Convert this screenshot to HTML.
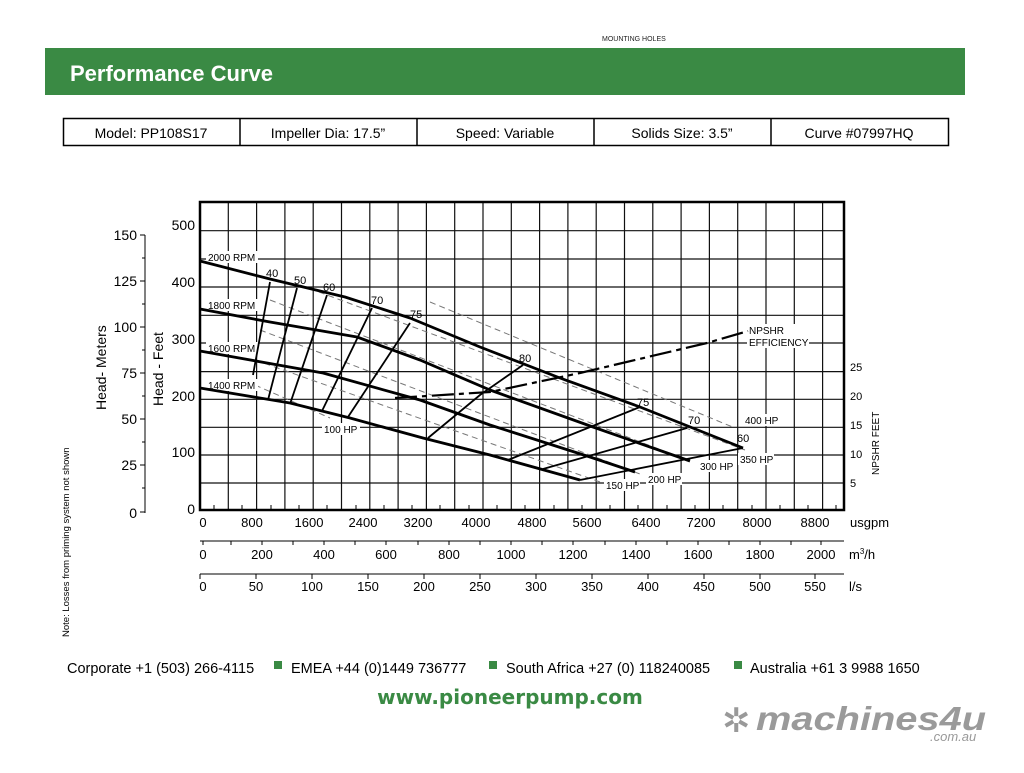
<!DOCTYPE html>
<html><head><meta charset="utf-8"><style>
body{margin:0;background:#fff;width:1024px;height:768px;overflow:hidden;font-family:"Liberation Sans",Arial,sans-serif}
</style></head><body>
<svg width="1024" height="768" viewBox="0 0 1024 768" xmlns="http://www.w3.org/2000/svg" font-family="Liberation Sans, Arial, sans-serif">
<text x="602" y="41" font-size="7" fill="#222">MOUNTING HOLES</text>
<rect x="45" y="48" width="920" height="47" fill="#3a8a44"/>
<text x="70" y="81" font-size="22" font-weight="bold" fill="#fff">Performance Curve</text>
<rect x="63.5" y="118.5" width="885" height="27" fill="none" stroke="#000" stroke-width="1.5"/>
<g stroke="#000" stroke-width="1.5"><line x1="240" y1="118" x2="240" y2="146"/><line x1="417" y1="118" x2="417" y2="146"/><line x1="594" y1="118" x2="594" y2="146"/><line x1="771" y1="118" x2="771" y2="146"/></g>
<g font-size="14" text-anchor="middle" fill="#000">
<text x="151" y="138">Model: PP108S17</text><text x="328" y="138">Impeller Dia: 17.5”</text><text x="505" y="138">Speed: Variable</text><text x="682" y="138">Solids Size: 3.5”</text><text x="859" y="138">Curve #07997HQ</text></g>

<g stroke="#111" stroke-width="1.2">
<line x1="228.3" y1="202" x2="228.3" y2="510"/><line x1="256.6" y1="202" x2="256.6" y2="510"/><line x1="284.9" y1="202" x2="284.9" y2="510"/><line x1="313.2" y1="202" x2="313.2" y2="510"/><line x1="341.5" y1="202" x2="341.5" y2="510"/><line x1="369.8" y1="202" x2="369.8" y2="510"/><line x1="398.1" y1="202" x2="398.1" y2="510"/><line x1="426.4" y1="202" x2="426.4" y2="510"/><line x1="454.7" y1="202" x2="454.7" y2="510"/><line x1="483" y1="202" x2="483" y2="510"/><line x1="511.3" y1="202" x2="511.3" y2="510"/><line x1="539.6" y1="202" x2="539.6" y2="510"/><line x1="567.9" y1="202" x2="567.9" y2="510"/><line x1="596.2" y1="202" x2="596.2" y2="510"/><line x1="624.5" y1="202" x2="624.5" y2="510"/><line x1="652.8" y1="202" x2="652.8" y2="510"/><line x1="681.1" y1="202" x2="681.1" y2="510"/><line x1="709.4" y1="202" x2="709.4" y2="510"/><line x1="737.7" y1="202" x2="737.7" y2="510"/><line x1="766" y1="202" x2="766" y2="510"/><line x1="794.3" y1="202" x2="794.3" y2="510"/><line x1="822.6" y1="202" x2="822.6" y2="510"/>
<line x1="200" y1="230.7" x2="844" y2="230.7"/><line x1="200" y1="259" x2="844" y2="259"/><line x1="200" y1="287" x2="844" y2="287"/><line x1="200" y1="315.3" x2="844" y2="315.3"/><line x1="200" y1="343" x2="844" y2="343"/><line x1="200" y1="371.6" x2="844" y2="371.6"/><line x1="200" y1="399.3" x2="844" y2="399.3"/><line x1="200" y1="427.3" x2="844" y2="427.3"/><line x1="200" y1="455" x2="844" y2="455"/><line x1="200" y1="483" x2="844" y2="483"/>
</g>
<rect x="200" y="202" width="644" height="308" fill="none" stroke="#000" stroke-width="2.5"/>

<g stroke="#777" stroke-width="1" stroke-dasharray="6,4" fill="none">
<line x1="430" y1="302" x2="735" y2="428"/>
<line x1="300" y1="285" x2="745" y2="450"/>
<line x1="270" y1="300" x2="690" y2="461"/>
<line x1="260" y1="330" x2="640" y2="474"/>
<line x1="255" y1="360" x2="600" y2="482"/>
<line x1="255" y1="385" x2="330" y2="418"/>
</g>
<g fill="#fff">
<rect x="206" y="251" width="52" height="12"/><rect x="206" y="299" width="52" height="12"/><rect x="206" y="342" width="52" height="12"/><rect x="206" y="379" width="52" height="12"/>
<rect x="322" y="423" width="38" height="12"/><rect x="604" y="479" width="36" height="12"/><rect x="646" y="473" width="36" height="12"/><rect x="698" y="460" width="36" height="12"/><rect x="738" y="453" width="36" height="12"/><rect x="743" y="414" width="38" height="12"/>
<rect x="747" y="324" width="62" height="24"/>
</g>
<g stroke="#000" stroke-width="2.8" fill="none" stroke-linejoin="round">
<polyline points="200,261 270,279 345,297 410,318 480,347 560,378 640,407 743,448"/>
<polyline points="200,309 270,322 357,337 420,360 490,390 593,427 690,461"/>
<polyline points="200,351 323,373 420,400 490,425 590,457 635,472"/>
<polyline points="200,388 290,403 350,418 423,438 490,455 580,480"/>
</g>
<g stroke="#000" stroke-width="1.8" fill="none">
<line x1="270" y1="282" x2="253" y2="375"/>
<line x1="297" y1="288" x2="268" y2="400"/>
<line x1="327" y1="295" x2="290" y2="404"/>
<line x1="372" y1="308" x2="322" y2="411"/>
<line x1="410" y1="323" x2="348" y2="417"/>
<polyline points="523,365 480,395 428,438"/>
<line x1="508" y1="460" x2="640" y2="407"/>
<line x1="543" y1="469" x2="687" y2="428"/>
<line x1="580" y1="480" x2="743" y2="448"/>
</g>
<polyline points="395,398 490,392 580,373 707,343 748,331" stroke="#000" stroke-width="2.2" fill="none" stroke-dasharray="22,5,5,5"/>

<g font-size="11" fill="#000">
<text x="208" y="261" font-size="10">2000 RPM</text><text x="208" y="309" font-size="10">1800 RPM</text><text x="208" y="352" font-size="10">1600 RPM</text><text x="208" y="389" font-size="10">1400 RPM</text>
<text x="266" y="277">40</text><text x="294" y="284">50</text><text x="323" y="291">60</text><text x="371" y="304">70</text><text x="410" y="318">75</text><text x="519" y="362">80</text>
<text x="637" y="406">75</text><text x="688" y="424">70</text><text x="737" y="442">60</text>
<text x="324" y="433" font-size="10">100 HP</text><text x="606" y="489" font-size="10">150 HP</text><text x="648" y="483" font-size="10">200 HP</text><text x="700" y="470" font-size="10">300 HP</text><text x="740" y="463" font-size="10">350 HP</text><text x="745" y="424" font-size="10">400 HP</text>
<text x="749" y="334" font-size="10">NPSHR</text><text x="749" y="346" font-size="10">EFFICIENCY</text>
</g>
<g font-size="11" fill="#000"><text x="850" y="371">25</text><text x="850" y="400">20</text><text x="850" y="429">15</text><text x="850" y="458">10</text><text x="850" y="487">5</text></g>
<text transform="translate(879,475) rotate(-90)" font-size="10">NPSHR FEET</text>

<g stroke="#000" stroke-width="1"><line x1="145" y1="235" x2="145" y2="513"/>
<line x1="140" y1="235" x2="145" y2="235"/><line x1="140" y1="281" x2="145" y2="281"/><line x1="140" y1="327" x2="145" y2="327"/><line x1="140" y1="373" x2="145" y2="373"/><line x1="140" y1="419" x2="145" y2="419"/><line x1="140" y1="465" x2="145" y2="465"/><line x1="140" y1="512" x2="145" y2="512"/>
<line x1="142" y1="258" x2="145" y2="258"/><line x1="142" y1="304" x2="145" y2="304"/><line x1="142" y1="350" x2="145" y2="350"/><line x1="142" y1="396" x2="145" y2="396"/><line x1="142" y1="442" x2="145" y2="442"/><line x1="142" y1="488" x2="145" y2="488"/></g>
<g font-size="14" fill="#000" text-anchor="end">
<text x="137" y="240">150</text><text x="137" y="286">125</text><text x="137" y="332">100</text><text x="137" y="378">75</text><text x="137" y="424">50</text><text x="137" y="470">25</text><text x="137" y="518">0</text>
<text x="195" y="230">500</text><text x="195" y="287">400</text><text x="195" y="344">300</text><text x="195" y="401">200</text><text x="195" y="457">100</text><text x="195" y="514">0</text></g>
<text transform="translate(106,410) rotate(-90)" font-size="14">Head- Meters</text>
<text transform="translate(163,406) rotate(-90)" font-size="14">Head - Feet</text>
<text transform="translate(69,637) rotate(-90)" font-size="9.5">Note: Losses from priming system not shown</text>

<g font-size="13" fill="#000" text-anchor="middle">
<text x="203" y="527">0</text><text x="252" y="527">800</text><text x="309" y="527">1600</text><text x="363" y="527">2400</text><text x="418" y="527">3200</text><text x="476" y="527">4000</text><text x="532" y="527">4800</text><text x="587" y="527">5600</text><text x="646" y="527">6400</text><text x="701" y="527">7200</text><text x="757" y="527">8000</text><text x="815" y="527">8800</text>
<text x="203" y="559">0</text><text x="262" y="559">200</text><text x="324" y="559">400</text><text x="386" y="559">600</text><text x="449" y="559">800</text><text x="511" y="559">1000</text><text x="573" y="559">1200</text><text x="636" y="559">1400</text><text x="698" y="559">1600</text><text x="760" y="559">1800</text><text x="821" y="559">2000</text>
<text x="203" y="591">0</text><text x="256" y="591">50</text><text x="312" y="591">100</text><text x="368" y="591">150</text><text x="424" y="591">200</text><text x="480" y="591">250</text><text x="536" y="591">300</text><text x="592" y="591">350</text><text x="648" y="591">400</text><text x="704" y="591">450</text><text x="760" y="591">500</text><text x="815" y="591">550</text></g>
<g font-size="13" fill="#000"><text x="850" y="527">usgpm</text><text x="849" y="559">m<tspan font-size="8" dy="-5">3</tspan><tspan dy="5">/h</tspan></text><text x="849" y="591">l/s</text></g>
<g stroke="#000" stroke-width="1">
<line x1="200" y1="541" x2="844" y2="541"/><line x1="200" y1="574" x2="844" y2="574"/>
<path d="M203 541v4M231 541v4M262 541v4M293 541v4M324 541v4M355 541v4M386 541v4M418 541v4M449 541v4M480 541v4M511 541v4M542 541v4M573 541v4M605 541v4M636 541v4M667 541v4M698 541v4M729 541v4M760 541v4M791 541v4M821 541v4"/>
<path d="M200 574v5M256 574v5M312 574v5M368 574v5M424 574v5M480 574v5M536 574v5M592 574v5M648 574v5M704 574v5M760 574v5M815 574v5"/>
<path d="M214 510v-5M242 510v-5M271 510v-5M299 510v-5M327 510v-5M356 510v-5M384 510v-5M412 510v-5M440 510v-5M469 510v-5M497 510v-5M525 510v-5M554 510v-5M582 510v-5M610 510v-5M638 510v-5M667 510v-5M695 510v-5M723 510v-5M752 510v-5M780 510v-5M808 510v-5M836 510v-5"/>
</g>

<g font-size="14.5" fill="#000">
<text x="67" y="673">Corporate +1 (503) 266-4115</text>
<rect x="274" y="661" width="8" height="8" fill="#3a8a44"/><text x="291" y="673">EMEA +44 (0)1449 736777</text>
<rect x="489" y="661" width="8" height="8" fill="#3a8a44"/><text x="506" y="673">South Africa +27 (0) 118240085</text>
<rect x="734" y="661" width="8" height="8" fill="#3a8a44"/><text x="750" y="673">Australia +61 3 9988 1650</text></g>
<text x="510" y="704" font-size="20" font-weight="bold" fill="#3a8a44" text-anchor="middle" font-family="DejaVu Sans, sans-serif">www.pioneerpump.com</text>
<text x="722" y="732" font-size="34" fill="#999">✲</text>
<text x="756" y="730" font-size="33" font-weight="bold" font-style="italic" fill="#9a9a9a" textLength="230" lengthAdjust="spacingAndGlyphs">machines4u</text>
<text x="930" y="741" font-size="13" font-style="italic" fill="#999">.com.au</text>
</svg>
</body></html>
